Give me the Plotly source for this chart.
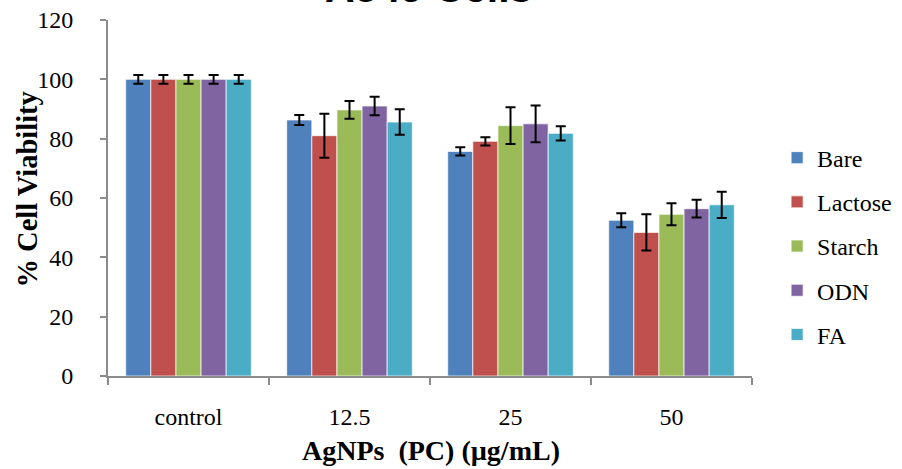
import plotly.graph_objects as go

categories = ["control", "12.5", "25", "50"]
series_names = ["Bare", "Lactose", "Starch", "ODN", "FA"]
bare = [100, 86.3, 75.7, 52.5]
lactose = [100, 81.0, 79.1, 48.4]
starch = [100, 89.7, 84.4, 54.5]
odn = [100, 91.0, 85.0, 56.4]
fa = [100, 85.6, 81.8, 57.7]
bare_err = [1.5, 1.7, 1.4, 2.4]
lactose_err = [1.5, 7.4, 1.4, 6.1]
starch_err = [1.5, 3.0, 6.2, 3.7]
odn_err = [1.5, 3.1, 6.2, 3.0]
fa_err = [1.5, 4.3, 2.4, 4.4]
colors = ["#4F81BD", "#C0504D", "#9BBB59", "#8064A2", "#4BACC6"]

values = [bare, lactose, starch, odn, fa]
errors = [bare_err, lactose_err, starch_err, odn_err, fa_err]

fig = go.Figure()
for i, name in enumerate(series_names):
    fig.add_trace(go.Bar(
        x=categories, y=values[i], name=name, legendgroup=name,
        marker=dict(color=colors[i], line=dict(color="rgba(255,255,255,0.7)", width=1)),
        error_y=dict(type="data", array=errors[i], visible=True,
                     color="black", thickness=2, width=5),
    ))

serif = "Liberation Serif, Times New Roman, serif"
fig.update_layout(
    width=902, height=469,
    margin=dict(l=108, r=150, t=20, b=93, autoexpand=False),
    paper_bgcolor="white", plot_bgcolor="white",
    barmode="group", bargap=0.22, bargroupgap=0,
    font=dict(family=serif, size=24, color="black"),
    showlegend=True,
    legend=dict(x=1.039, y=0.365, xanchor="left", yanchor="middle",
                font=dict(family=serif, size=24), tracegroupgap=10,
                itemwidth=30),
    xaxis=dict(
        automargin=False,
        showline=True, linecolor="#8c8c8c", linewidth=2,
        ticks="outside", ticklen=7, tickcolor="#8c8c8c", tickwidth=2,
        tickson="boundaries", ticklabeloverflow="allow",
        ticklabelstandoff=18,
        tickfont=dict(family=serif, size=24),
    ),
    yaxis=dict(
        automargin=False,
        range=[0, 120], dtick=20,
        showline=True, linecolor="#8c8c8c", linewidth=2,
        ticks="outside", ticklen=6, tickcolor="#8c8c8c", tickwidth=2,
        showgrid=False, zeroline=False, ticklabeloverflow="allow",
        ticklabelstandoff=22,
        tickfont=dict(family=serif, size=24),
    ),
    annotations=[
        dict(
            text="<b>A549 Cells</b>", xref="paper", yref="paper",
            x=(428 - 108) / 644, y=1.021, xanchor="center", yanchor="bottom",
            showarrow=False,
            font=dict(family="Liberation Sans, Arial, sans-serif", size=41, color="black"),
        ),
        dict(
            text="<b>% Cell Viability</b>", xref="paper", yref="paper",
            x=(27.5 - 108) / 644, y=(376 - 190) / 356,
            xanchor="center", yanchor="middle", textangle=-90,
            showarrow=False,
            font=dict(family=serif, size=28.5, color="black"),
        ),
        dict(
            text="<b>AgNPs  (PC) (µg/mL)</b>", xref="paper", yref="paper",
            x=(431 - 108) / 644, y=(376 - 450) / 356,
            xanchor="center", yanchor="middle",
            showarrow=False,
            font=dict(family=serif, size=28, color="black"),
        ),
    ],
)

fig.write_html("out.html", config={"displayModeBar": False},
               post_script="document.body.style.margin='0';")
